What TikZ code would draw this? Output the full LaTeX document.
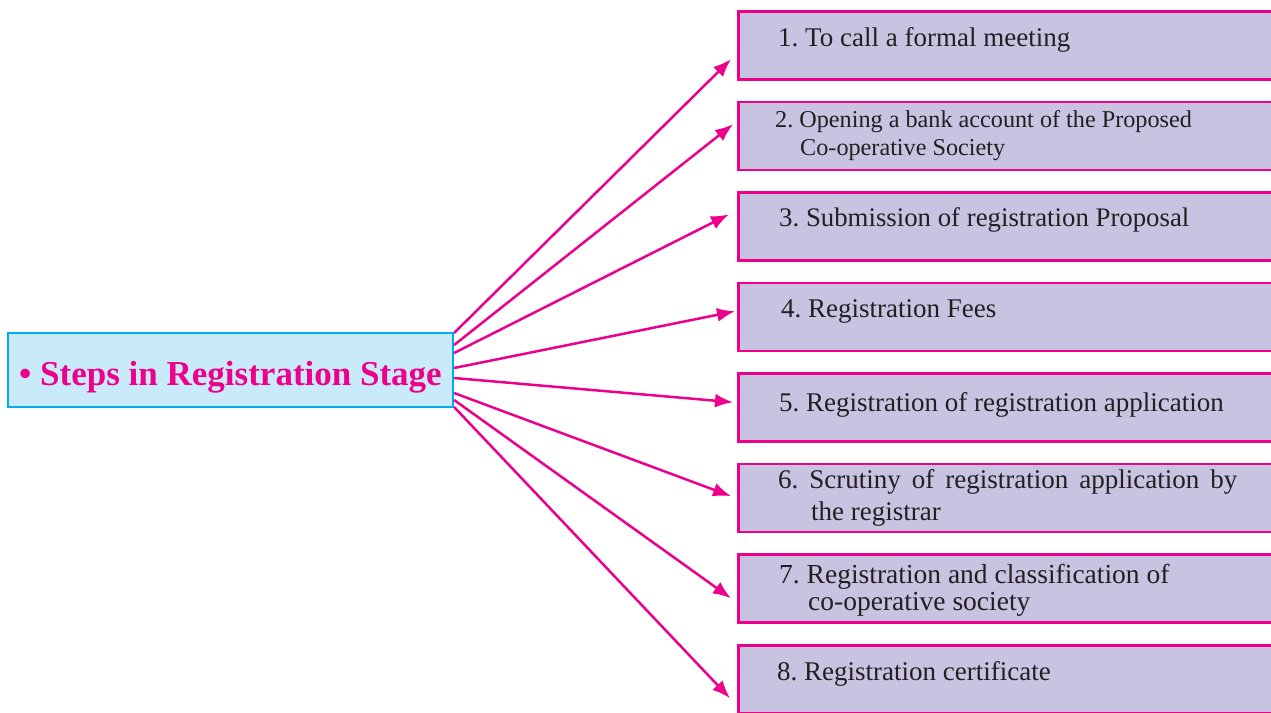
\documentclass[tikz,border=0pt]{standalone}
\usepackage{fontspec}
\setmainfont{Liberation Serif}
\usetikzlibrary{arrows.meta}
\definecolor{regpink}{HTML}{EC008C}
\definecolor{reglilac}{HTML}{C7C3E1}
\definecolor{regsky}{HTML}{C8EAF9}
\definecolor{regcyan}{HTML}{00AEEF}
\definecolor{regtext}{HTML}{231F20}
\frenchspacing

\begin{document}
\begin{tikzpicture}[x=1pt,y=-1pt,
            stage/.style={draw=regcyan, fill=regsky, line width=2.2pt,
                minimum width=445pt, minimum height=74pt, inner sep=0pt,
                text height=30pt, text depth=0pt,
                text=regpink, font=\fontsize{35}{40}\selectfont\bfseries},
            stepbox/.style={draw=regpink, fill=reglilac, line width=2.5pt,
                minimum width=560pt, minimum height=68pt, inner sep=0pt,
                anchor=north west},
            steptext/.style={anchor=north west, inner sep=0pt, align=left,
                text=regtext, font=\fontsize{27}{30}\selectfont},
            link/.style={regpink, line width=2.5pt,
                -{Latex[length=18pt,width=14pt]}}]
            \useasboundingbox[fill=white] (0,0) rectangle (1271,712);

            \node[stage] (stage) at (230.5,370) {\textbullet\ Steps in Registration Stage};

            % step boxes on the right
            \node[stepbox] (s1) at (737,10) {};
            \node[stepbox] (s2) at (737,100.6) {};
            \node[stepbox] (s3) at (737,191.1) {};
            \node[stepbox] (s4) at (737,281.7) {};
            \node[stepbox] (s5) at (737,372.3) {};
            \node[stepbox] (s6) at (737,462.9) {};
            \node[stepbox] (s7) at (737,553.4) {};
            \node[stepbox] (s8) at (737,644) {};

            \node[steptext] (t1) at ([shift={(41,17)}]s1.north west) {1. To call a formal meeting};
            \node[steptext, font=\fontsize{24.2}{28}\selectfont] (t2) at ([shift={(38,10)}]s2.north west)
                {2. Opening a bank account of the Proposed\\\hspace*{25pt}Co-operative Society};
            \node[steptext, font=\fontsize{26.8}{30}\selectfont] (t3) at ([shift={(42,16)}]s3.north west)
                {3. Submission of registration Proposal};
            \node[steptext] (t4) at ([shift={(44,18)}]s4.north west) {4. Registration Fees};
            \node[steptext] (t5) at ([shift={(42,20)}]s5.north west) {5. Registration of registration application};
            \node[steptext, font=\fontsize{27}{32}\selectfont] (t6) at ([shift={(41,6)}]s6.north west)
                {\makebox[459pt][s]{6. Scrutiny of registration application by}\\\hspace*{33pt}the registrar};
            \node[steptext, font=\fontsize{27.5}{27}\selectfont] (t7) at ([shift={(42,11)}]s7.north west)
                {7. Registration and classification of\\\hspace*{29pt}co-operative society};
            \node[steptext] (t8) at ([shift={(40,17)}]s8.north west) {8. Registration certificate};

            % arrows from the stage to every step
            \foreach \s/\from/\dx/\dy in {s1/-37/-6/14, s2/-25/-4/-11.6, s3/-17/-8/-12,
                    s4/-2/-2/-5.7, s5/8/-4/-5.3, s6/23/-6/-2, s7/30/-6/9.6, s8/37/-7/19}
                \draw[link] ([shift={(0,\from)}]stage.east) -- ([shift={(\dx,\dy)}]\s.west);

        \end{tikzpicture}
\end{document}
